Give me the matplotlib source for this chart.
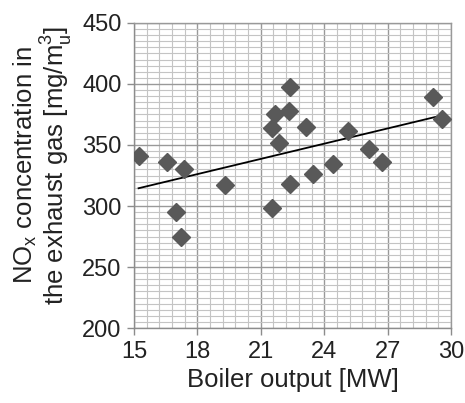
import numpy as np
import matplotlib.pyplot as plt
from matplotlib.ticker import MultipleLocator

plt.rcParams['font.family'] = ['Liberation Sans', 'DejaVu Sans']
plt.rcParams['mathtext.fontset'] = 'custom'
plt.rcParams['mathtext.rm'] = 'Liberation Sans'

# Measured points (boiler output in MW, NOx in mg/m3_u)
output_mw = [15.22, 16.58, 17.35, 17.00, 17.24, 19.31, 21.51, 21.54, 21.66, 21.87, 22.34,
             22.37, 22.39, 23.12, 23.48, 24.40, 25.11, 26.13, 26.72, 29.16, 29.57]
nox = [341.2, 336.3, 330.0, 295.1, 274.7, 317.0, 298.1, 364.1, 375.8, 351.3, 378.0,
       397.4, 317.8, 364.7, 326.0, 334.4, 361.4, 346.7, 336.3, 389.2, 371.2]
x_ticks = [15, 18, 21, 24, 27, 30]
y_ticks = [200, 250, 300, 350, 400, 450]

grid_major = '#999999'
grid_minor = '#c4c4c4'

fig = plt.figure(figsize=(4.65, 4.03), dpi=100)
ax = fig.add_axes([0.288, 0.186, 0.682, 0.757])

# linear trend line (least squares, like Excel)
k, b = np.polyfit(output_mw, nox, 1)
xt = np.array([min(output_mw), max(output_mw)])
ax.plot(xt, k * xt + b, color='black', lw=1.3, zorder=3)

ax.plot(output_mw, nox, linestyle='none', marker='D', ms=9.5,
        color='#595959', mec='#595959', zorder=4)

ax.set_xlim(15, 30)
ax.set_ylim(200, 450)
ax.set_xticks(x_ticks)
ax.set_yticks(y_ticks)
ax.xaxis.set_minor_locator(MultipleLocator(0.6))
ax.yaxis.set_minor_locator(MultipleLocator(5))
ax.grid(which='major', color=grid_major, lw=1.0)
ax.grid(which='minor', color=grid_minor, lw=0.8)
ax.set_axisbelow(True)

for s in ['top', 'right']:
    ax.spines[s].set_color(grid_major)
    ax.spines[s].set_linewidth(1.0)
for s in ['left', 'bottom']:
    ax.spines[s].set_color('#8c8c8c')
    ax.spines[s].set_linewidth(1.0)

ax.tick_params(which='major', length=5, width=1.0, color='#8c8c8c',
               labelsize=17, labelcolor='#222222', pad=4)
ax.tick_params(which='minor', length=0)

ax.set_xlabel('Boiler output [MW]', fontsize=18.5, color='#222222', labelpad=4)
# y label placed by hand so it sits like the original
fig.text(0.092, 0.59,
         'NO$_\\mathregular{x}$ concentration in\nthe exhaust gas [mg/m$^\\mathregular{3}_\\mathregular{u}$]',
         rotation=90, ha='center', va='center', multialignment='center',
         fontsize=18.5, color='#222222', linespacing=1.0)

fig.savefig('out.png', dpi=100)
